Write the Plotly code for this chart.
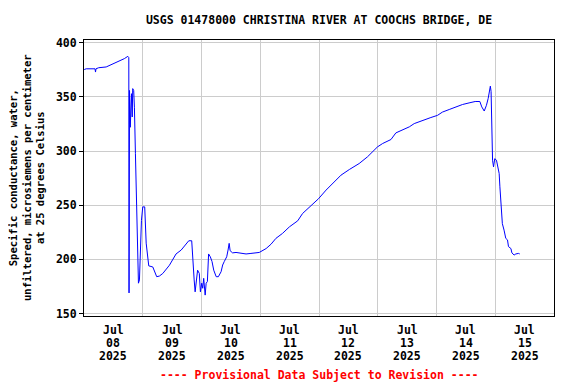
import plotly.graph_objects as go
import pandas as pd

# hours since 2025-07-08 00:00 and specific conductance values (uS/cm)
hours = [0.08, 0.9, 4.5, 4.7, 4.9, 6.0, 9.06, 10.4, 12.45, 14.5, 16.5, 17.9, 18.3,
         18.4, 18.6, 18.9, 19.1, 19.4, 19.7, 19.9, 20.3, 20.6, 21.0, 21.55, 21.96,
         22.24, 22.65, 22.94, 23.47, 24.0, 24.8, 25.4, 26.2, 26.45, 28.1, 29.7, 30.8,
         32.2, 34.9, 36.2, 37.6, 39.7, 41.7, 42.8, 44.0, 44.4, 45.0, 45.4, 45.8, 46.4,
         47.1, 47.55, 48.1, 48.5, 48.9, 49.5, 49.9, 50.4, 50.9, 51.6, 52.3, 53.0, 54.0,
         54.9, 56.0, 56.65, 57.3, 58.3, 58.85, 59.3, 59.7, 60.7, 62.1, 64.2, 66.2, 68.2,
         71.6, 74.4, 76.4, 78.4, 81.1, 83.9, 87.3, 89.3, 92.0, 95.8, 98.9, 102.2, 105.0,
         108.4, 112.4, 115.8, 118.6, 119.9, 122.0, 125.4, 127.4, 130.1, 132.9, 134.9,
         138.3, 141.7, 144.4, 146.4, 149.2, 151.9, 154.6, 157.3, 159.8, 161.7, 162.5,
         163.5, 164.4, 165.1, 165.5, 166.0, 166.3, 166.6, 166.9, 167.3, 167.8, 168.5,
         168.9, 169.6, 169.9, 170.3, 170.9, 171.6, 172.3, 173.0, 173.4, 174.4, 174.8,
         175.7, 176.4, 177.5, 178.0]
values = [375.3, 376, 376, 373, 376, 377, 377.7, 379, 381, 383.2, 385.4, 387.5, 386.3,
          169, 356, 322, 345, 353, 331.5, 357.7, 356, 340, 298, 243, 208,
          178, 181, 202.4, 236, 248.5, 248.5, 215, 199.4, 194, 193, 184, 184.6,
          187, 194.6, 200, 205, 208.6, 214, 217.2, 217.2, 199.4, 181, 170, 181, 190,
          187, 170, 178, 173.3, 182.5, 167, 178, 179.5, 205, 202.4, 198, 190, 184,
          184, 188.6, 194.8, 198, 202.4, 208.6, 214.8, 208, 206, 206.4, 205.5, 205, 205.5,
          206.4, 210, 214, 219.4, 224, 230, 235.6, 242.4, 248, 256, 264, 271.6, 277.8,
          283, 288.5, 294.7, 300.8, 303.9, 307, 310.7, 316.8, 319.3, 322.4, 325.4,
          328.5, 331, 333, 336, 338.4, 340.8, 343, 344.5, 345.8, 345.8, 340.8,
          337, 342.3, 348.5, 356, 360, 355, 319.3, 291.6, 285.4, 293, 291.6,
          285.4, 279.3, 267, 248.5, 233, 227, 219.4, 218, 211.8, 210, 206,
          204, 205, 205.5, 205]

day_labels = ["2025-07-08", "2025-07-09", "2025-07-10", "2025-07-11",
              "2025-07-12", "2025-07-13", "2025-07-14", "2025-07-15"]
tick_month = ["Jul"] * 8
tick_day = ["08", "09", "10", "11", "12", "13", "14", "15"]
tick_year = ["2025"] * 8
grid_days = ["2025-07-09", "2025-07-10", "2025-07-11", "2025-07-12",
             "2025-07-13", "2025-07-14", "2025-07-15"]
y_ticks = [150, 200, 250, 300, 350, 400]

start = pd.Timestamp("2025-07-08 00:00")
times = start + pd.to_timedelta(hours, unit="h")
tick_pos = [pd.Timestamp(d) + pd.Timedelta(hours=12) for d in day_labels]

FONT = "DejaVu Sans Mono"
W, H = 568, 376          # page body has an 8px margin in the browser
L, R, T, B = 76, 22, 32, 68
PH = H - T - B           # plot height in px


def py(fig_y):
    """figure pixel y -> paper coordinate"""
    return (H - B - fig_y) / PH


fig = go.Figure()
fig.add_trace(go.Scatter(x=times, y=values, mode="lines",
                         line=dict(color="#0000FF", width=1), showlegend=False))

annotations = [
    dict(text="Specific conductance, water,<br>unfiltered, microsiemens per centimeter<br>at 25 degrees Celsius",
         xref="paper", yref="paper", x=(18 - L) / (W - L - R), y=0.5,
         xanchor="center", yanchor="middle", textangle=-90, showarrow=False,
         font=dict(family=FONT, size=10.5, color="black", weight="bold")),
    dict(text="---- Provisional Data Subject to Revision ----",
         xref="paper", yref="paper", x=0.5, y=py(367),
         xanchor="center", yanchor="middle", showarrow=False,
         font=dict(family=FONT, size=11.5, color="red", weight="bold")),
]
for row, (labels, yc) in enumerate([(tick_month, 322), (tick_day, 335), (tick_year, 348)]):
    for xp, lab in zip(tick_pos, labels):
        annotations.append(dict(
            text=lab, x=xp, xref="x", y=py(yc), yref="paper",
            xanchor="center", yanchor="middle", showarrow=False,
            font=dict(family=FONT, size=11.5, color="black", weight="bold")))

fig.update_layout(
    width=W, height=H,
    margin=dict(l=L, r=R, t=T, b=B),
    paper_bgcolor="white", plot_bgcolor="white",
    font=dict(family=FONT, size=11.5, color="black", weight="bold"),
    title=dict(text="USGS 01478000 CHRISTINA RIVER AT COOCHS BRIDGE, DE",
               x=0.5, xref="paper", xanchor="center",
               y=1 - 12 / H, yanchor="middle",
               font=dict(family=FONT, size=11.5, color="black", weight="bold")),
    xaxis=dict(
        range=[pd.Timestamp("2025-07-08"), pd.Timestamp("2025-07-16")],
        tickmode="array", tickvals=tick_pos, showticklabels=False,
        showgrid=False, ticks="", zeroline=False,
        showline=True, linecolor="black", linewidth=1, mirror=True,
        minor=dict(tickmode="array", tickvals=grid_days, showgrid=True,
                   gridcolor="#cccccc", gridwidth=1, ticks=""),
    ),
    yaxis=dict(
        range=[147.7, 402.6],
        tickmode="array", tickvals=y_ticks,
        showgrid=True, gridcolor="#cccccc", gridwidth=1,
        ticks="outside", ticklen=4, tickcolor="black",
        zeroline=False,
        showline=True, linecolor="black", linewidth=1, mirror=True,
        tickfont=dict(family=FONT, size=11.5, color="black", weight="bold"),
    ),
    annotations=annotations,
)

fig.write_html("out.html")
